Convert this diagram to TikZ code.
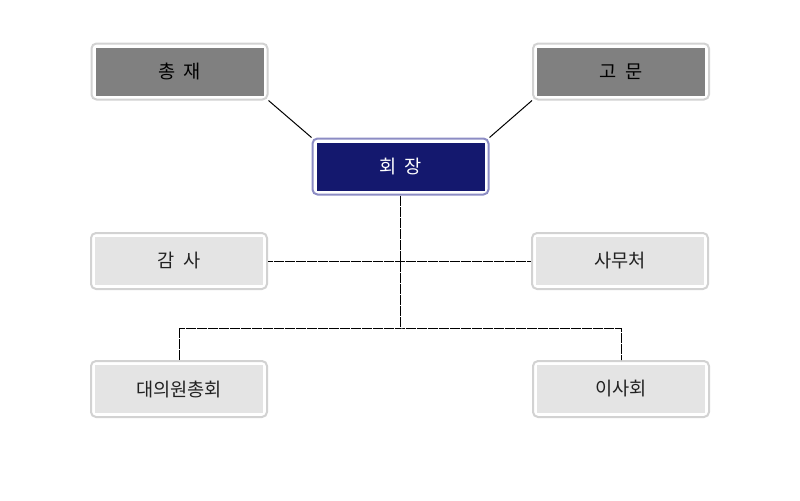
\documentclass[tikz,border=0pt]{standalone}
\usepackage{fontspec}
\newfontfamily\kr{Noto Sans CJK KR}
\definecolor{navy}{HTML}{14186E}
\definecolor{navyedge}{HTML}{8C8CC4}
\definecolor{darkbox}{HTML}{808080}
\definecolor{lightbox}{HTML}{E4E4E4}
\definecolor{edge}{HTML}{D2D2D2}
\definecolor{txt}{HTML}{222222}
\tikzset{
  outerbox/.style={draw=edge, line width=2*0.75pt, fill=white, rounded corners=5*0.75pt,
    minimum width=176*0.75pt, minimum height=56*0.75pt, inner sep=0pt},
  innerbox/.style={minimum width=168*0.75pt, minimum height=48*0.75pt, inner sep=0pt,
    font=\kr\fontsize{14}{16}\selectfont},
  darkin/.style={innerbox, fill=darkbox, text=black},
  lightin/.style={innerbox, fill=lightbox, text=txt},
  navyin/.style={innerbox, fill=navy, text=white},
  conn/.style={draw=black, line width=0.75pt, dash pattern=on 5*0.75pt off 0.5*0.75pt},
}
\begin{document}
\begin{tikzpicture}[x=0.75pt,y=-0.75pt]
\useasboundingbox[fill=white] (0,0) rectangle (800,500);
% top boxes
\node[outerbox] (chong) at (179.5,71.5) {};
\node[darkin] (chongt) at (chong.center) {총\hspace{0.45em}재};
\node[outerbox] (gomun) at (621,71.5) {};
\node[darkin] (gomunt) at (gomun.center) {고\hspace{0.45em}문};
\node[outerbox, draw=navyedge] (hoe) at (400.5,166.5) {};
\node[navyin] (hoet) at (hoe.center) {회\hspace{0.45em}장};
% middle
\node[outerbox] (gamsa) at (179,261) {};
\node[lightin] (gamsat) at (gamsa.center) {감\hspace{0.45em}사};
\node[outerbox] (samu) at (620,261) {};
\node[lightin] (samut) at (samu.center) {사무처};
% bottom
\node[outerbox] (daeui) at (179,389) {};
\node[lightin] (daeuit) at (daeui.center) {대의원총회};
\node[outerbox] (isa) at (621,389) {};
\node[lightin] (isat) at (isa.center) {이사회};
% connectors
\coordinate (j) at (400.5,328);
\draw[line width=0.75pt] (chong.south east) -- (hoe.north west);
\draw[line width=0.75pt] (gomun.south west) -- (hoe.north east);
\draw[conn] (hoe.south) -- (j);
\draw[conn] (gamsa.east) -- (samu.west);
\draw[conn] (daeui.north) |- (j) -| (isa.north);
\end{tikzpicture}
\end{document}
